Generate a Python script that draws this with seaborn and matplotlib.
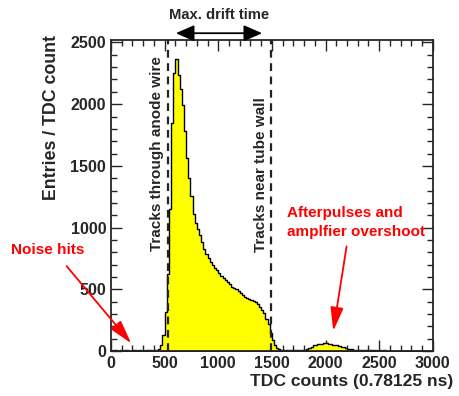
import numpy as np
import pandas as pd
import matplotlib
matplotlib.use("Agg")
import matplotlib.pyplot as plt
from matplotlib.ticker import MultipleLocator
import seaborn as sns

# TDC spectrum, 20 counts per bin, starting at 0
bin_width = 20
noise_counts = [4, 6, 5, 3, 5, 4, 6, 5, 4, 3, 5, 6, 4, 5, 3, 4, 5, 6, 5, 4, 7, 9]  # 0 .. 420
signal_counts = [15, 50, 130, 320, 620, 1150, 1850, 2250, 2370, 2240,  # 440 ..
                 2120, 1990, 1780, 1560, 1400, 1260, 1110, 1040, 985, 940,
                 880, 830, 790, 750, 725, 700, 670, 655, 630, 610,
                 595, 575, 560, 545, 520, 510, 505, 490, 470, 450,
                 440, 430, 425, 415, 405, 395, 380, 360, 330, 305,
                 260, 220, 150, 90, 45, 25, 15, 10]                      # .. 1580
after_counts = [8, 7, 6, 7, 6, 7, 8, 6, 7, 6, 8,                         # 1600 .. 1800
                15, 25, 35, 45, 50, 55, 55, 60, 65, 62,
                60, 55, 52, 50, 45, 40, 35, 30, 25, 20,
                18, 15, 12, 10, 8, 7, 8, 6, 7, 5,
                6, 5, 6, 4, 5, 4, 5, 4, 3, 4,
                4, 3, 4, 3, 3, 4, 3, 3, 2, 3,
                3, 2, 3, 2, 3, 2, 2, 3, 2]                              # .. 2980
counts = noise_counts + signal_counts + after_counts
centers = np.arange(len(counts)) * bin_width + bin_width / 2
df = pd.DataFrame({"tdc": centers, "entries": counts})

anode_line = 530
wall_line = 1490

sns.set_style("ticks")
plt.rcParams["font.family"] = ["Liberation Sans", "DejaVu Sans"]
plt.rcParams["font.weight"] = "bold"

fig = plt.figure(figsize=(4.59, 3.96), dpi=100)
ax = fig.add_axes([0.2418, 0.1136, 0.7012, 0.7854])

sns.histplot(data=df, x="tdc", weights="entries", binwidth=bin_width, binrange=(0, 3000),
             element="step", fill=True, color="#ffff00", alpha=1.0,
             edgecolor="black", linewidth=1.0, ax=ax)

ax.axvline(anode_line, color="#222222", ls=(0, (3.5, 2.5)), lw=1.6)
ax.axvline(wall_line, color="#222222", ls=(0, (3.5, 2.5)), lw=1.6)

ax.set_xlim(0, 3000)
ax.set_ylim(0, 2520)
ax.xaxis.set_major_locator(MultipleLocator(500))
ax.xaxis.set_minor_locator(MultipleLocator(100))
ax.yaxis.set_major_locator(MultipleLocator(500))
ax.yaxis.set_minor_locator(MultipleLocator(100))
ax.tick_params(which="both", direction="in", top=True, right=True, labelsize=11.5)
ax.tick_params(which="major", length=8, width=1)
ax.tick_params(which="minor", length=4, width=1)
for sp in ax.spines.values():
    sp.set_linewidth(1.3)

ax.set_xlabel("TDC counts (0.78125 ns)", fontsize=12.6, fontweight="bold", ha="right")
ax.xaxis.set_label_coords(1.062, -0.075)
ax.set_ylabel("Entries / TDC count", fontsize=12.8, fontweight="bold", ha="right")
ax.yaxis.set_label_coords(-0.158, 1.016)

ax.text(430, 2390, "Tracks through anode wire", rotation=90, ha="center", va="top",
        fontsize=11, fontweight="bold")
ax.text(1400, 2060, "Tracks near tube wall", rotation=90, ha="center", va="top",
        fontsize=11, fontweight="bold")

# max drift time arrow above the frame
ax.annotate("", xy=(578, 2575), xytext=(1435, 2575), annotation_clip=False,
            arrowprops=dict(arrowstyle="<|-|>,head_length=0.8,head_width=0.35",
                            color="black", lw=1.3, mutation_scale=14))
ax.text(1010, 2720, "Max. drift time", ha="center", va="center", fontsize=10.6,
        fontweight="bold", clip_on=False)

ax.annotate("", xy=(2068, 140), xytext=(2200, 870),
            arrowprops=dict(arrowstyle="-|>,head_length=0.8,head_width=0.22",
                            color="red", lw=1.3, mutation_scale=18))
ax.text(1640, 1045, "Afterpulses and\namplfier overshoot", color="red", ha="left",
        va="center", fontsize=11, fontweight="bold", linespacing=1.45)

ax.annotate("", xy=(205, 45), xytext=(-430, 705), annotation_clip=False,
            arrowprops=dict(arrowstyle="-|>,head_length=0.8,head_width=0.22",
                            color="red", lw=1.3, mutation_scale=18))
ax.text(-590, 815, "Noise hits", color="red", ha="center", va="center", fontsize=11,
        fontweight="bold", clip_on=False)

fig.savefig("out.png", dpi=100)
